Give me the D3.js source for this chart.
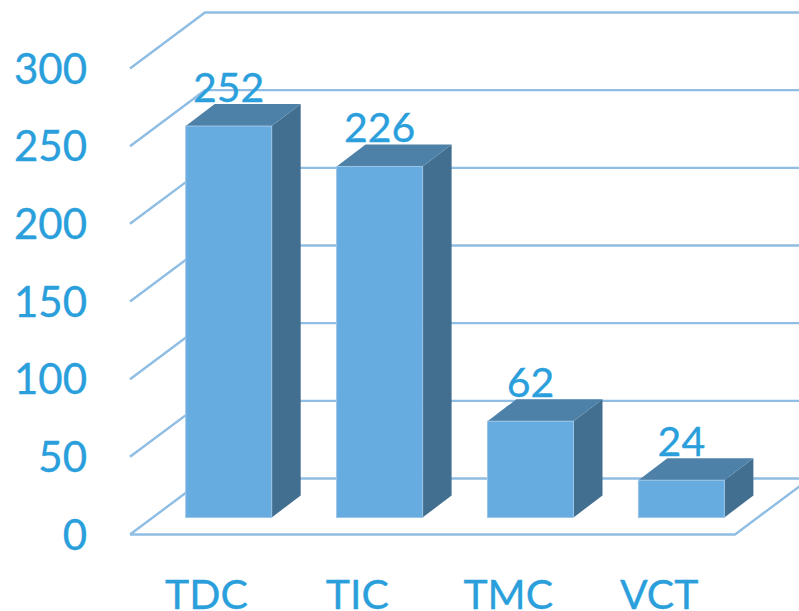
<!DOCTYPE html>
<html><head><meta charset="utf-8">
<script src="https://cdn.jsdelivr.net/npm/d3@7"></script>
<style>html,body{margin:0;padding:0;background:#fff;overflow:hidden}svg{display:block}text{font-family:Lato,sans-serif;stroke:#2a9fdc;stroke-width:.35px}</style>
</head><body><svg id="c" width="799" height="611"></svg>
<script>
const categories = ["TDC","TIC","TMC","VCT"];
const values = [252,226,62,24];
const yTicks = [0,50,100,150,200,250,300];

const svg = d3.select("#c");
const textCol = "#2a9fdc", gridCol = "#8fbde3";
const front = "#67ace0", top_ = "#4e81a8", side = "#426f90", edge = "#9cc4e6";
const y = d3.scaleLinear().domain([0,300]).range([534.5,68.5]);
const x = d3.scaleBand().domain(categories).range([130,733.6]).padding(0);
const floorEnd = 735;
const depth = {dx:75, dy:-56};
const barW = 86, bar = {dx:29, dy:-22, base:517.5};
const h = d3.scaleLinear().domain([0,300]).range([0,466]);

// walls and floor
const grid = svg.append("g").attr("fill","none").attr("stroke",gridCol).attr("stroke-width",2.4);
yTicks.forEach(t=>{
  grid.append("path").attr("d",`M${x.range()[0]},${y(t)}L${x.range()[0]+depth.dx},${y(t)+depth.dy}L805,${y(t)+depth.dy}`);
});
grid.append("path").attr("d",`M${x.range()[0]},${y(0)}L${floorEnd},${y(0)}L${floorEnd+depth.dx},${y(0)+depth.dy}`);

// bars
const g = svg.selectAll("g.bar").data(categories.map((c,i)=>({c,v:values[i]}))).join("g").attr("class","bar");
const x0 = d=>x(d.c)+x.bandwidth()/2-barW/2+23.25;
const yt = d=>bar.base-h(d.v);
g.append("path").attr("fill",side).attr("d",d=>`M${x0(d)+barW},${yt(d)}l${bar.dx},${bar.dy}V${bar.base+bar.dy}l${-bar.dx},${-bar.dy}Z`);
g.append("path").attr("fill",top_).attr("d",d=>`M${x0(d)},${yt(d)}l${bar.dx},${bar.dy}h${barW}l${-bar.dx},${-bar.dy}Z`);
g.append("rect").attr("fill",front).attr("stroke",edge).attr("stroke-width",1)
  .attr("x",x0).attr("y",yt).attr("width",barW).attr("height",d=>h(d.v));
g.append("text").attr("x",d=>x0(d)+barW/2).attr("y",d=>yt(d)-24).attr("text-anchor","middle")
  .attr("font-size",41).attr("fill",textCol).text(d=>d.v);

// y labels
svg.append("g").selectAll("text").data(yTicks).join("text")
  .attr("x",87).attr("y",d=>y(d)+15).attr("text-anchor","end").attr("font-size",42).attr("fill",textCol).text(d=>d);
// x labels
svg.append("g").selectAll("text").data(categories).join("text")
  .attr("x",d=>x(d)+x.bandwidth()/2+1).attr("y",609).attr("text-anchor","middle").attr("font-size",41).attr("fill",textCol).text(d=>d);
</script></body></html>
